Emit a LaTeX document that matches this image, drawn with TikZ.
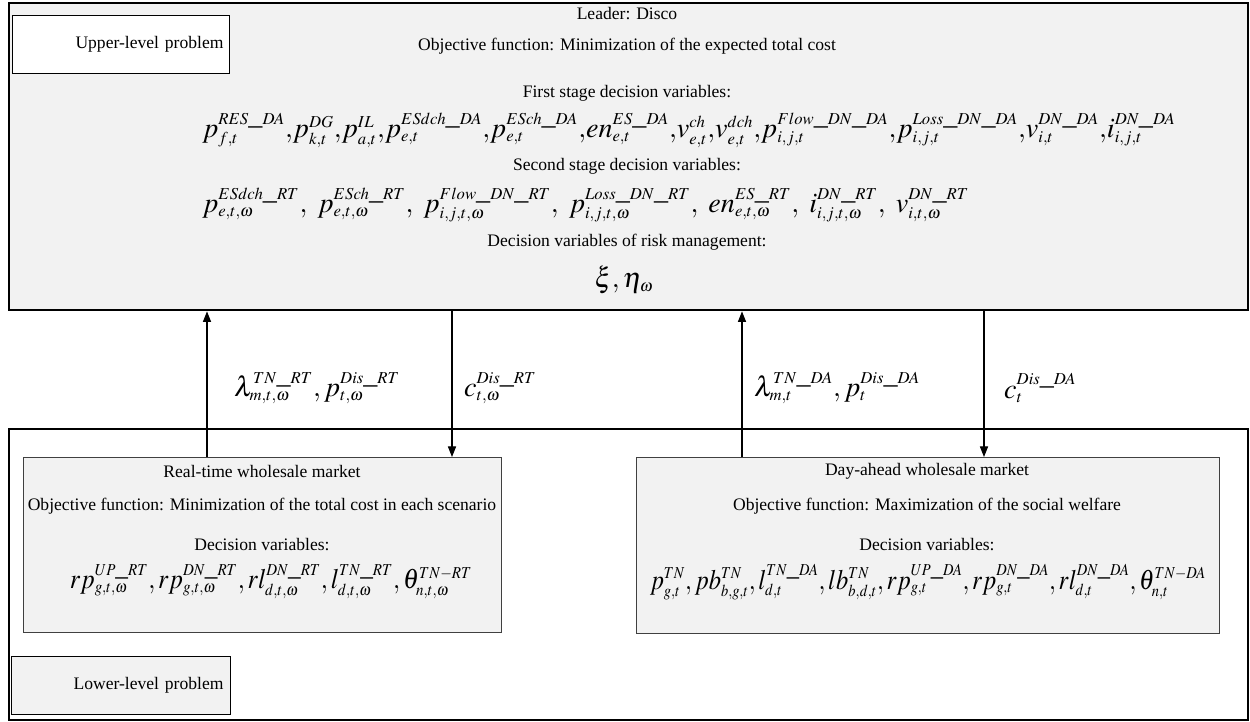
\documentclass[tikz,border=0pt]{standalone}
\usepackage{mathptmx}
\usepackage{fontspec}
\setmainfont{Liberation Serif}
\DeclareMathSizes{16}{16}{9.5}{7}
\usetikzlibrary{arrows,arrows.meta,positioning}
\definecolor{boxgray}{HTML}{F2F2F2}
\tikzset{
    %Define standard arrow tip
    >={Triangle[length=6pt,width=4.6pt]},
    %Define style for the two level frames
    levelbox/.style={
           rectangle,
           draw=black, line width=1.4pt,
           inner sep=0pt,
           anchor=north west},
    marketbox/.style={
           rectangle,
           draw=black!75, line width=0.7pt,
           fill=boxgray,
           inner sep=0pt,
           anchor=north west},
    tagbox/.style={
           rectangle,
           draw=black, line width=0.6pt,
           minimum width=4.34cm,
           minimum height=1.16cm,
           text width=4.1cm,
           align=right,
           anchor=north west},
    txt/.style={font=\fontsize{10}{12}\selectfont},
    var/.style={font=\fontsize{16}{19}\selectfont},
    % Define arrow style
    pil/.style={
           ->,
           line width=0.6pt}
}

\begin{document}
\begin{tikzpicture}[x=0.02cm,y=-0.02cm]
\useasboundingbox (0,0) rectangle (1250,722);
 %frames
\node[levelbox, fill=boxgray, minimum width=24.78cm, minimum height=6.14cm](upper) at (8,2){};
\node[levelbox, fill=white, minimum width=24.78cm, minimum height=5.82cm](lower) at (8,428){};
\node[tagbox, fill=white, txt](uptag) at (12,15){Upper-level problem};
\node[tagbox, fill=boxgray, txt, minimum width=4.38cm](lowtag) at (11,656){Lower-level problem};
\node[marketbox, minimum width=9.56cm, minimum height=3.5cm](rtm) at (23,457){};
\node[marketbox, minimum width=11.66cm, minimum height=3.52cm](dam) at (636,457){};

 %upper-level texts
\node[txt](leader) at (627,14){Leader: Disco};
\node[txt](upobj) at (627,46){Objective function: Minimization of the expected total cost};
\node[txt](first) at (627,93){First stage decision variables:};
\node[var, anchor=west](firstvar) at (196,130){$p_{f,t}^{RES\_DA}{,} p_{k,t}^{DG}{,} p_{a,t}^{IL}{,} p_{e,t}^{ESdch\_DA}{,} p_{e,t}^{ESch\_DA}{,} en_{e,t}^{ES\_DA}{,} v_{e,t}^{ch}{,} v_{e,t}^{dch}{,} p_{i,j,t}^{Flow\_DN\_DA}{,} p_{i,j,t}^{Loss\_DN\_DA}{,} v_{i,t}^{DN\_DA}{,} i_{i,j,t}^{DN\_DA}$};
\node[txt](second) at (627,166){Second stage decision variables:};
\node[var, anchor=west](secondvar) at (196,205){$p_{e,t,\omega}^{ESdch\_RT},\:\, p_{e,t,\omega}^{ESch\_RT},\:\, p_{i,j,t,\omega}^{Flow\_DN\_RT},\:\, p_{i,j,t,\omega}^{Loss\_DN\_RT},\:\, en_{e,t,\omega}^{ES\_RT},\:\, i_{i,j,t,\omega}^{DN\_RT},\:\, v_{i,t,\omega}^{DN\_RT}$};
\node[txt](risk) at (627,242){Decision variables of risk management:};
\node[var](riskvar) at (624,280){$\xi,\eta_\omega$};

 %lower-level texts
\node[txt](rtname) at (262,471){Real-time wholesale market};
\node[txt](rtobj) at (262,506){Objective function: Minimization of the total cost in each scenario};
\node[txt](rtdec) at (262,545){Decision variables:};
\node[var](rtvar) at (271,582){\scalebox{0.9}[1]{$rp_{g,t,\omega}^{UP\_RT}, rp_{g,t,\omega}^{DN\_RT}, rl_{d,t,\omega}^{DN\_RT}, l_{d,t,\omega}^{TN\_RT}, \theta_{n,t,\omega}^{TN-RT}$}};
\node[txt](daname) at (927,471){Day-ahead wholesale market};
\node[txt](daobj) at (927,506){Objective function: Maximization of the social welfare};
\node[txt](dadec) at (927,545){Decision variables:};
\node[var](davar) at (928,582){\scalebox{0.87}[1]{$p_{g,t}^{TN}, pb_{b,g,t}^{TN}, l_{d,t}^{TN\_DA}, lb_{b,d,t}^{TN}, rp_{g,t}^{UP\_DA}, rp_{g,t}^{DN\_DA}, rl_{d,t}^{DN\_DA}, \theta_{n,t}^{TN-DA}$}};

 %exchanged quantities
\coordinate (rtup) at (207,0);
\coordinate (rtdown) at (452,0);
\coordinate (daup) at (742,0);
\coordinate (dadown) at (984,0);
\draw[pil] (rtm.north -| rtup) -- (upper.south -| rtup);
\draw[pil] (upper.south -| rtdown) -- (rtm.north -| rtdown);
\draw[pil] (dam.north -| daup) -- (upper.south -| daup);
\draw[pil] (upper.south -| dadown) -- (dam.north -| dadown);
\node[var, anchor=west](rtprice) at (228,388){$\lambda_{m,t,\omega}^{TN\_RT}, p_{t,\omega}^{Dis\_RT}$};
\node[var, anchor=west](rtcost) at (458,388){$c_{t,\omega}^{Dis\_RT}$};
\node[var, anchor=west](daprice) at (748,388){$\lambda_{m,t}^{TN\_DA}, p_{t}^{Dis\_DA}$};
\node[var, anchor=west](dacost) at (998,388){$c_{t}^{Dis\_DA}$};

\end{tikzpicture}
\end{document}
